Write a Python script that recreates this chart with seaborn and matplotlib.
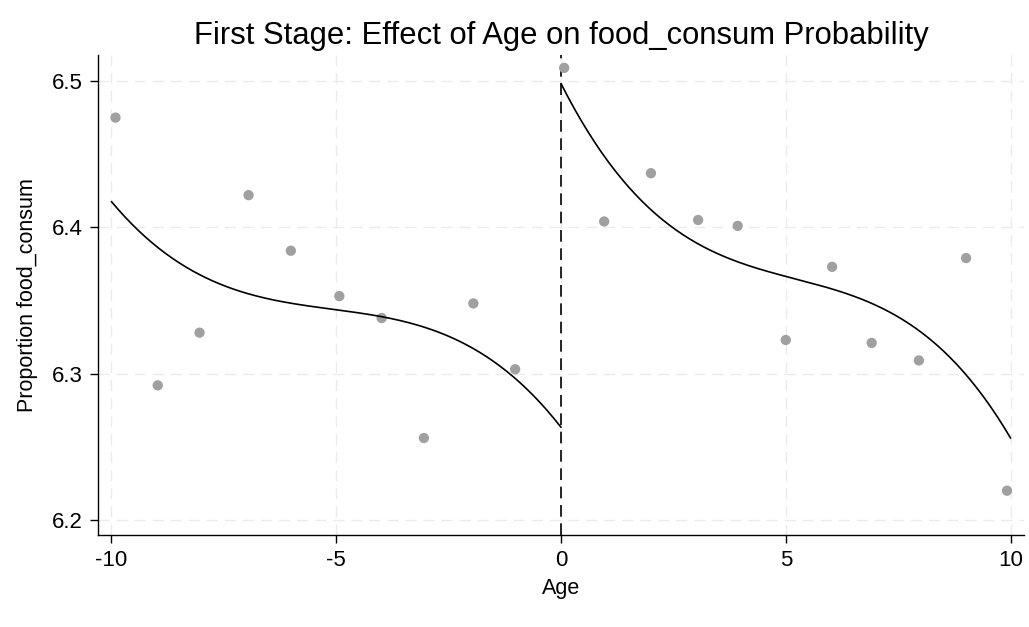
import numpy as np
import pandas as pd
import matplotlib
matplotlib.use("Agg")
import matplotlib.pyplot as plt
import seaborn as sns

# --- data (bin means) ---
age_left = [-9.91, -8.97, -8.04, -6.95, -6.01, -4.93, -3.99, -3.05, -1.95, -1.02]
share_left = [6.475, 6.292, 6.328, 6.422, 6.384, 6.353, 6.338, 6.256, 6.348, 6.303]
age_right = [0.07, 0.96, 2.00, 3.05, 3.93, 5.00, 6.03, 6.91, 7.96, 9.01, 9.92]
share_right = [6.509, 6.404, 6.437, 6.405, 6.401, 6.323, 6.373, 6.321, 6.309, 6.379, 6.220]
x_ticks = [-10, -5, 0, 5, 10]
y_ticks = [6.2, 6.3, 6.4, 6.5]
cutoff = 0

bins = pd.DataFrame({
    "Age": age_left + age_right,
    "share": share_left + share_right,
})

# cubic fit on each side of the cutoff
fits = []
for xs, ys, lo, hi in [(age_left, share_left, -10, 0), (age_right, share_right, 0, 10)]:
    coef = np.polyfit(xs, ys, 3)
    grid = np.linspace(lo, hi, 200)
    fits.append(pd.DataFrame({"Age": grid, "fit": np.polyval(coef, grid)}))

sns.set_style("white")
plt.rcParams["font.family"] = ["Liberation Sans", "DejaVu Sans"]
plt.rcParams["text.color"] = "black"
plt.rcParams["axes.labelcolor"] = "black"
plt.rcParams["xtick.color"] = "black"
plt.rcParams["ytick.color"] = "black"

fig = plt.figure(figsize=(10.29, 6.27), dpi=100)
ax = fig.add_axes([0.0952, 0.1467, 0.9, 0.7656])

for x in x_ticks:
    ax.axvline(x, color="#ebebeb", lw=1, ls=(0, (8, 5)), zorder=0)
for y in y_ticks:
    ax.axhline(y, color="#ebebeb", lw=1, ls=(0, (8, 5)), zorder=0)

sns.scatterplot(data=bins, x="Age", y="share", ax=ax, color="#a0a0a0",
                s=55, edgecolor="none", zorder=3)
for f in fits:
    sns.lineplot(data=f, x="Age", y="fit", ax=ax, color="black", lw=1.2, zorder=4)

ax.axvline(cutoff, color="black", lw=1.2, ls=(0, (7, 4)), zorder=2)

ax.set_xlim(-10.3, 10.3)
ax.set_ylim(6.1897, 6.5178)
ax.set_xticks(x_ticks)
ax.set_xticklabels([str(t) for t in x_ticks])
ax.set_yticks(y_ticks)
ax.set_yticklabels([f"{t:.1f}" for t in y_ticks])

for side in ["top", "right"]:
    ax.spines[side].set_visible(False)
for side in ["left", "bottom"]:
    ax.spines[side].set_color("black")
    ax.spines[side].set_linewidth(1.0)
ax.tick_params(axis="both", which="major", direction="out", length=6,
               width=1, color="black", labelcolor="black", labelsize=16,
               pad=5, left=True, bottom=True)

ax.set_title("First Stage: Effect of Age on food_consum Probability",
             fontsize=22.3, pad=8, color="black")
ax.set_xlabel("Age", fontsize=15.5, labelpad=5, color="black")
ax.set_ylabel("Proportion food_consum", fontsize=15.5, labelpad=10, color="black")

fig.savefig("out.png", dpi=100)
